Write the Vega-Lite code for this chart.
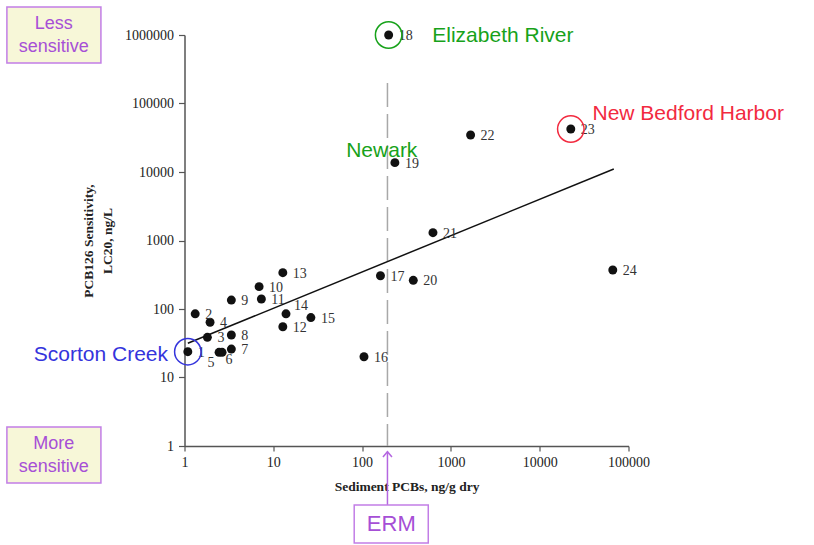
{
  "$schema": "https://vega.github.io/schema/vega-lite/v6.json",
  "width": 444,
  "height": 411,
  "autosize": {"type": "none"},
  "padding": {"left": 184.5, "top": 35, "right": 185.5, "bottom": 99},
  "background": "white",
  "config": {"view": {"stroke": null}},
  "datasets": {
    "points": [
      {"id": 1, "sed": 1.09, "lc": 23.8},
      {"id": 2, "sed": 1.32, "lc": 85},
      {"id": 3, "sed": 1.81, "lc": 38.6},
      {"id": 4, "sed": 1.94, "lc": 64},
      {"id": 5, "sed": 2.45, "lc": 23.3},
      {"id": 6, "sed": 2.65, "lc": 23.3},
      {"id": 7, "sed": 3.37, "lc": 26},
      {"id": 8, "sed": 3.37, "lc": 41.7},
      {"id": 9, "sed": 3.37, "lc": 135},
      {"id": 10, "sed": 6.92, "lc": 212},
      {"id": 11, "sed": 7.34, "lc": 140},
      {"id": 12, "sed": 12.8, "lc": 55},
      {"id": 13, "sed": 12.8, "lc": 339},
      {"id": 14, "sed": 13.9, "lc": 85},
      {"id": 15, "sed": 26.5, "lc": 75},
      {"id": 16, "sed": 105, "lc": 20.1},
      {"id": 17, "sed": 161, "lc": 306},
      {"id": 18, "sed": 199, "lc": 1000000},
      {"id": 19, "sed": 234, "lc": 13700},
      {"id": 20, "sed": 377, "lc": 262},
      {"id": 21, "sed": 628, "lc": 1300},
      {"id": 22, "sed": 1667, "lc": 34700},
      {"id": 23, "sed": 22400, "lc": 42400},
      {"id": 24, "sed": 66500, "lc": 371}
    ],
    "fit": [
      {"sed": 1.09, "lc": 31.6},
      {"sed": 68300, "lc": 11060}
    ],
    "erm": [
      {"sed": 193, "top": 200000, "bottom": 1, "atop": 0.826, "abottom": 0.1377}
    ],
    "circles": [
      {"site": "Elizabeth River", "sed": 199, "lc": 1000000},
      {"site": "New Bedford Harbor", "sed": 22400, "lc": 42400},
      {"site": "Scorton Creek", "sed": 1.09, "lc": 23.8}
    ],
    "sites": [
      {"site": "Elizabeth River", "sed": 617, "lc": 970000, "align": "left"},
      {"site": "New Bedford Harbor", "sed": 39300, "lc": 70300, "align": "left"},
      {"site": "Newark", "sed": 66.2, "lc": 20260, "align": "left"},
      {"site": "Scorton Creek", "sed": 0.652, "lc": 21.3, "align": "right"}
    ],
    "boxes": [
      {"label": "Less\nsensitive", "x1": 0.01, "x2": 0.1145, "y1": 2560000, "y2": 390000, "cx": 0.0338, "cy": 1000000},
      {"label": "More\nsensitive", "x1": 0.01, "x2": 0.1145, "y1": 1.89, "y2": 0.288, "cx": 0.0338, "cy": 0.739},
      {"label": "ERM", "x1": 81.5, "x2": 556, "y1": 0.1377, "y2": 0.0384, "cx": 213, "cy": 0.0727}
    ]
  },
  "layer": [
    {
      "data": {"name": "erm"},
      "mark": {"type": "rule", "color": "#a8a8a8", "strokeWidth": 1.5, "strokeDash": [24, 7], "clip": false},
      "encoding": {
        "x": {"field": "sed", "type": "quantitative", "scale": {"type": "log", "domain": [1, 100000], "nice": false},
          "axis": {"title": "Sediment PCBs, ng/g dry", "values": [1, 10, 100, 1000, 10000, 100000], "format": "d", "grid": false,
            "domainColor": "#555", "domainWidth": 1.5, "tickColor": "#555", "tickSize": 5, "tickWidth": 1.2,
            "labelFont": "Liberation Serif", "labelFontSize": 14, "labelColor": "#222", "labelPadding": 4,
            "labelFlush": false, "labelOverlap": false,
            "titleFont": "Liberation Serif", "titleFontSize": 13.5, "titleFontWeight": "bold", "titleColor": "#222", "titlePadding": 10}},
        "y": {"field": "top", "type": "quantitative", "scale": {"type": "log", "domain": [1, 1000000], "nice": false},
          "axis": {"title": ["PCB126 Sensitivity,", "LC20, ng/L"], "values": [1, 10, 100, 1000, 10000, 100000, 1000000], "format": "d", "grid": false,
            "domainColor": "#555", "domainWidth": 1.5, "tickColor": "#555", "tickSize": 6, "tickWidth": 1.2,
            "labelFont": "Liberation Serif", "labelFontSize": 14, "labelColor": "#222", "labelPadding": 5,
            "labelOverlap": false, "labelFlush": false,
            "titleFont": "Liberation Serif", "titleFontSize": 13.5, "titleFontWeight": "bold", "titleColor": "#222",
            "titlePadding": 10, "titleLineHeight": 19}},
        "y2": {"field": "bottom"}
      }
    },
    {
      "data": {"name": "erm"},
      "mark": {"type": "rule", "color": "#b466e0", "strokeWidth": 1.5, "clip": false},
      "encoding": {
        "x": {"field": "sed", "type": "quantitative"},
        "y": {"field": "atop", "type": "quantitative"},
        "y2": {"field": "abottom"}
      }
    },
    {
      "data": {"name": "erm"},
      "mark": {"type": "point", "shape": "M-1,1.2L0,0L1,1.2", "filled": false, "stroke": "#b466e0", "strokeWidth": 1.5, "size": 81, "opacity": 1, "clip": false},
      "encoding": {
        "x": {"field": "sed", "type": "quantitative"},
        "y": {"field": "atop", "type": "quantitative"}
      }
    },
    {
      "data": {"name": "fit"},
      "mark": {"type": "line", "color": "#111", "strokeWidth": 1.5, "clip": false},
      "encoding": {
        "x": {"field": "sed", "type": "quantitative"},
        "y": {"field": "lc", "type": "quantitative"}
      }
    },
    {
      "data": {"name": "points"},
      "mark": {"type": "point", "shape": "circle", "filled": true, "color": "#111", "opacity": 1, "size": 80, "clip": false},
      "encoding": {
        "x": {"field": "sed", "type": "quantitative"},
        "y": {"field": "lc", "type": "quantitative"}
      }
    },
    {
      "data": {"name": "points"},
      "transform": [{"filter": "datum.id != 5 && datum.id != 6 && datum.id != 14"}],
      "mark": {"type": "text", "align": "left", "baseline": "middle", "dx": 10, "dy": 1, "font": "Liberation Serif", "fontSize": 14, "color": "#333", "clip": false},
      "encoding": {
        "x": {"field": "sed", "type": "quantitative"},
        "y": {"field": "lc", "type": "quantitative"},
        "text": {"field": "id"}
      }
    },
    {
      "data": {"name": "points"},
      "transform": [{"filter": "datum.id == 5"}],
      "mark": {"type": "text", "align": "center", "baseline": "middle", "dx": -8, "dy": 11, "font": "Liberation Serif", "fontSize": 14, "color": "#333"},
      "encoding": {
        "x": {"field": "sed", "type": "quantitative"},
        "y": {"field": "lc", "type": "quantitative"},
        "text": {"field": "id"}
      }
    },
    {
      "data": {"name": "points"},
      "transform": [{"filter": "datum.id == 6"}],
      "mark": {"type": "text", "align": "center", "baseline": "middle", "dx": 7, "dy": 8, "font": "Liberation Serif", "fontSize": 14, "color": "#333"},
      "encoding": {
        "x": {"field": "sed", "type": "quantitative"},
        "y": {"field": "lc", "type": "quantitative"},
        "text": {"field": "id"}
      }
    },
    {
      "data": {"name": "points"},
      "transform": [{"filter": "datum.id == 14"}],
      "mark": {"type": "text", "align": "left", "baseline": "middle", "dx": 8, "dy": -8, "font": "Liberation Serif", "fontSize": 14, "color": "#333"},
      "encoding": {
        "x": {"field": "sed", "type": "quantitative"},
        "y": {"field": "lc", "type": "quantitative"},
        "text": {"field": "id"}
      }
    },
    {
      "data": {"name": "circles"},
      "mark": {"type": "point", "shape": "circle", "filled": false, "strokeWidth": 1.5, "opacity": 1, "size": 700, "clip": false},
      "encoding": {
        "x": {"field": "sed", "type": "quantitative"},
        "y": {"field": "lc", "type": "quantitative"},
        "color": {"field": "site", "type": "nominal", "legend": null,
          "scale": {"domain": ["Elizabeth River", "New Bedford Harbor", "Newark", "Scorton Creek"], "range": ["#17a21a", "#f22a3f", "#17a21a", "#3434dc"]}}
      }
    },
    {
      "data": {"name": "sites"},
      "transform": [{"filter": "datum.align == 'left'"}],
      "mark": {"type": "text", "align": "left", "baseline": "middle", "font": "Liberation Sans", "fontSize": 21, "clip": false},
      "encoding": {
        "x": {"field": "sed", "type": "quantitative"},
        "y": {"field": "lc", "type": "quantitative"},
        "text": {"field": "site"},
        "color": {"field": "site", "type": "nominal", "legend": null}
      }
    },
    {
      "data": {"name": "sites"},
      "transform": [{"filter": "datum.align == 'right'"}],
      "mark": {"type": "text", "align": "right", "baseline": "middle", "font": "Liberation Sans", "fontSize": 21, "clip": false},
      "encoding": {
        "x": {"field": "sed", "type": "quantitative"},
        "y": {"field": "lc", "type": "quantitative"},
        "text": {"field": "site"},
        "color": {"field": "site", "type": "nominal", "legend": null}
      }
    },
    {
      "data": {"name": "boxes"},
      "transform": [{"filter": "datum.label != 'ERM'"}],
      "mark": {"type": "rect", "fill": "#f7f7d8", "stroke": "#c27ee6", "strokeWidth": 1.5, "clip": false},
      "encoding": {
        "x": {"field": "x1", "type": "quantitative"},
        "x2": {"field": "x2"},
        "y": {"field": "y1", "type": "quantitative"},
        "y2": {"field": "y2"}
      }
    },
    {
      "data": {"name": "boxes"},
      "transform": [{"filter": "datum.label == 'ERM'"}],
      "mark": {"type": "rect", "fill": "#ffffff", "stroke": "#c27ee6", "strokeWidth": 1.5, "clip": false},
      "encoding": {
        "x": {"field": "x1", "type": "quantitative"},
        "x2": {"field": "x2"},
        "y": {"field": "y1", "type": "quantitative"},
        "y2": {"field": "y2"}
      }
    },
    {
      "data": {"name": "boxes"},
      "transform": [{"filter": "datum.label != 'ERM'"}],
      "mark": {"type": "text", "align": "center", "baseline": "middle", "lineBreak": "\n", "lineHeight": 23, "dy": -11, "font": "Liberation Sans", "fontSize": 18, "color": "#a64fd6", "clip": false},
      "encoding": {
        "x": {"field": "cx", "type": "quantitative"},
        "y": {"field": "cy", "type": "quantitative"},
        "text": {"field": "label"}
      }
    },
    {
      "data": {"name": "boxes"},
      "transform": [{"filter": "datum.label == 'ERM'"}],
      "mark": {"type": "text", "align": "center", "baseline": "middle", "font": "Liberation Sans", "fontSize": 22, "color": "#a64fd6", "clip": false},
      "encoding": {
        "x": {"field": "cx", "type": "quantitative"},
        "y": {"field": "cy", "type": "quantitative"},
        "text": {"field": "label"}
      }
    }
  ]
}
